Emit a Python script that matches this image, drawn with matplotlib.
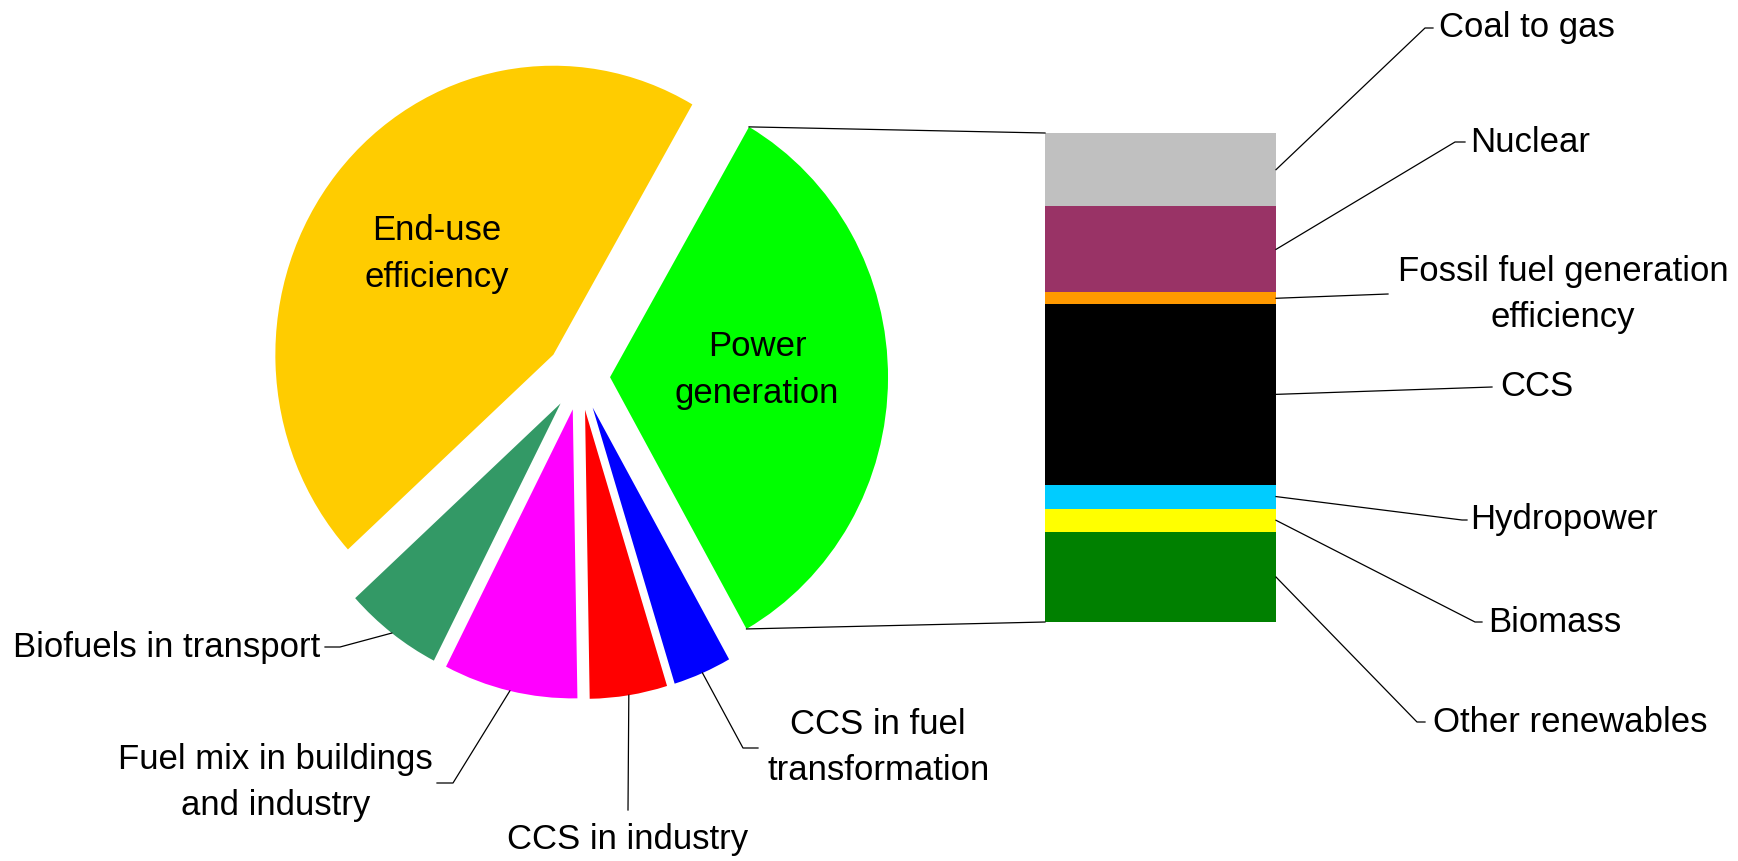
import numpy as np
import matplotlib.pyplot as plt

plt.rcParams['font.family'] = ['Liberation Sans', 'DejaVu Sans']

# Datos del pastel (reparto del abatimiento, %)
pie_labels = ['End-use\nefficiency', 'Biofuels in transport', 'Fuel mix in buildings\nand industry',
              'CCS in industry', 'CCS in fuel\ntransformation', 'Power\ngeneration']
pie_vals = [45.1, 5.7, 7.8, 4.5, 3.4, 33.5]
pie_clrs = ['#FFCC00', '#339966', '#FF00FF', '#FF0000', '#0000FF', '#00FF00']

# Datos de la barra (desglose de Power generation, %), de arriba hacia abajo
bar_labels = ['Coal to gas', 'Nuclear', 'Fossil fuel generation\nefficiency', 'CCS',
              'Hydropower', 'Biomass', 'Other renewables']
bar_vals = [15.0, 17.6, 2.4, 36.9, 4.9, 4.8, 18.4]
bar_clrs = ['#C0C0C0', '#993366', '#FF9900', '#000000', '#00CCFF', '#FFFF00', '#008000']

# Geometria en pixeles (y hacia abajo)
W, H = 1738, 861
cx, cy, rx, ry = 580, 377, 278, 289          # centro y radios del pastel
expl = [0.123, 0.115, 0.115, 0.115, 0.115, 0.108]
bx0, bx1, by0, by1 = 1045, 1276, 133, 622    # caja de la barra
fs = 25
lsp = 1.5
lc = '#000000'

fig = plt.figure(figsize=(W/100, H/100), dpi=100)

# Pastel
ax_pie = fig.add_axes([0, 0, 1, 1])
wedges, _ = ax_pie.pie(pie_vals, colors=pie_clrs, startangle=60, counterclock=True,
                       explode=expl, wedgeprops=dict(linewidth=0))
ax_pie.set_aspect('auto')
ax_pie.set_xlim(-cx/rx, (W - cx)/rx)
ax_pie.set_ylim(-(H - cy)/ry, cy/ry)
ax_pie.axis('off')

# Barra apilada
ax_bar = fig.add_axes([bx0/W, 1 - by1/H, (bx1 - bx0)/W, (by1 - by0)/H])
v_up = np.array(bar_vals[::-1])
bottoms = np.concatenate(([0], np.cumsum(v_up)[:-1]))
ax_bar.bar(0, v_up, bottom=bottoms, width=1, color=bar_clrs[::-1], linewidth=0)
ax_bar.set_xlim(-0.5, 0.5); ax_bar.set_ylim(0, sum(bar_vals))
ax_bar.axis('off')

# Capa para lineas y textos, en pixeles
ov = fig.add_axes([0, 0, 1, 1])
ov.set_xlim(0, W); ov.set_ylim(H, 0)
ov.axis('off')

def px(ax, p):
    return ov.transData.inverted().transform(ax.transData.transform(p))

def edge_pt(w, ang):
    a = np.deg2rad(ang)
    return px(ax_pie, (w.center[0] + w.r*np.cos(a), w.center[1] + w.r*np.sin(a)))

# Lineas que unen el sector Power generation con la barra
g = wedges[-1]
for ang, yb in [(g.theta2, sum(bar_vals)), (g.theta1, 0)]:
    p = edge_pt(g, ang)
    q = px(ax_bar, (-0.5, yb))
    ov.plot([p[0], q[0]], [p[1], q[1]], color=lc, lw=0.9)

# Etiquetas dentro de los sectores grandes
ov.text(437, 254, pie_labels[0], fontsize=fs, ha='center', va='center', linespacing=lsp)
ov.text(757, 370, pie_labels[5], fontsize=fs, ha='center', va='center', linespacing=lsp)

# Etiquetas de los sectores pequenos: (x texto, y texto, ha, x codo, y codo, x cola)
pie_txt = {1: (320, 647, 'right', 340, 647, 325),
           2: (433, 783, 'right', 453, 783, 437),
           3: (628, 840, 'center', 628, 810, None),
           4: (767, 748, 'left', 743, 748, 758)}
for i, (tx, ty, ha, kx, ky, tl) in pie_txt.items():
    w = wedges[i]
    p = edge_pt(w, 0.5*(w.theta1 + w.theta2))
    xs, ys = [p[0], kx], [p[1], ky]
    if tl is not None:
        xs.append(tl); ys.append(ky)
    ov.plot(xs, ys, color=lc, lw=0.9)
    ov.text(tx, ty, pie_labels[i], fontsize=fs, ha=ha, va='center',
            multialignment='center', linespacing=lsp)

# Etiquetas de la barra
bar_txt = [(1439, 28, 'left', 1425, 1433),
           (1470, 142, 'left', 1455, 1465),
           (1563, 294, 'center', 1388, None),
           (1500, 387, 'left', 1492, None),
           (1470, 520, 'left', 1462, 1467),
           (1488, 622, 'left', 1475, 1482),
           (1433, 722, 'left', 1417, 1425)]
mids = (bottoms + v_up/2)[::-1]
for lab, m, (tx, ty, ha, kx, tl) in zip(bar_labels, mids, bar_txt):
    p = px(ax_bar, (0.5, m))
    xs, ys = [p[0], kx], [p[1], ty]
    if tl is not None:
        xs.append(tl); ys.append(ty)
    ov.plot(xs, ys, color=lc, lw=0.9)
    ov.text(tx, ty, lab, fontsize=fs, ha=ha, va='center',
            multialignment='center', linespacing=lsp)

fig.savefig('out.png', dpi=100)
